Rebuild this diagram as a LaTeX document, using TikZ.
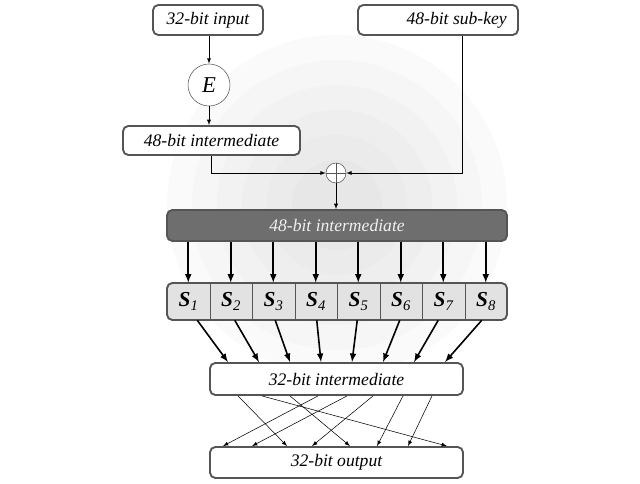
\documentclass[tikz,border=0pt]{standalone}
\usepackage{fontspec}
\setmainfont{Liberation Serif}
\usepackage{tikz}
\usetikzlibrary{positioning}
\usetikzlibrary{arrows,shapes}
\usetikzlibrary{calc}
\definecolor{framegray}{RGB}{85,85,85}
\definecolor{bargray}{RGB}{110,110,110}
\definecolor{cellgray}{RGB}{226,226,226}
\tikzstyle{block}=[rectangle,rounded corners=4pt,draw=framegray,line width=1.4pt,fill=white,inner sep=0pt,font=\fontsize{13.2}{15}\selectfont\itshape]
\tikzstyle{darkblock}=[block,fill=bargray,text=black!6]
\tikzstyle{sboxrow}=[block,fill=cellgray]
\tikzstyle{cell}=[rectangle,inner sep=0pt,minimum width=31.875pt,minimum height=27.75pt]
\tikzstyle{op}=[circle,draw=framegray,fill=white,inner sep=0pt,thin]
\tikzstyle{wire}=[draw,thin,-latex]
\tikzstyle{busline}=[draw,line width=1.2pt,-latex]
\newcommand{\sname}[1]{{\fontsize{16}{16}\selectfont\bfseries\itshape S}\raisebox{-3.5pt}{\fontsize{11}{11}\selectfont\itshape #1}}

\begin{document}
\begin{tikzpicture}[x=0.75pt,y=-0.75pt]

  \useasboundingbox (0,0) rectangle (640,484);

  % background rings
  \foreach \r/\c in {170/2,145/3.5,120/5,95/6.5,70/8,45/9.5}
          \fill[black!\c] (337,205) circle (\r);

  \node[block,minimum width=82.5pt,minimum height=22.5pt] (in32) at (208,20) {32-bit input};
  \node[block,minimum width=120pt,minimum height=22.5pt] (key48) at (438,20) {\hspace*{28pt}48-bit sub-key};
  \node[op,minimum size=31.5pt,font=\fontsize{17}{17}\selectfont\itshape] (E) at (209,85) {E};
  \node[block,minimum width=132.75pt,minimum height=21.75pt] (mid48) at (211.5,140.5) {48-bit intermediate};
  \node[op,minimum size=15pt] (xor) at (336,173) {};
  \draw[thin,framegray] (xor.north) -- (xor.south) (xor.west) -- (xor.east);

  \draw[wire] (in32.south -| E) -- (E.north);
  \draw[wire] (E.south) -- (E |- mid48.north);
  \draw[wire] (mid48.south) |- (xor.west);
  \draw[wire] ($(key48.south)+(24,0)$) |- (xor.east);

  \node[darkblock,minimum width=255pt,minimum height=23.25pt] (bar) at (337,225.5) {48-bit intermediate};
  \draw[wire] (xor.south) -- (xor |- bar.north);

  % s-boxes
  \node[sboxrow,minimum width=255pt,minimum height=27.75pt] (srow) at (337,301.5) {};
  \foreach \x/\name/\label in {188.25/s1/1, 230.75/s2/2, 273.25/s3/3, 315.75/s4/4, 358.25/s5/5, 400.75/s6/6, 443.25/s7/7, 485.75/s8/8}
          \node[cell] (\name) at (\x,301.5) {\sname{\label}};
  \foreach \i in {1,...,7}
          \draw[thin,framegray] (s\i.north east) -- (s\i.south east);
  \foreach \i in {1,...,8}
          \draw[busline] (s\i |- bar.south) -- (s\i.north);

  \node[block,minimum width=189.75pt,minimum height=24pt] (mid32) at (336.5,379) {32-bit intermediate};
  \node[block,minimum width=189.75pt,minimum height=23.25pt] (out32) at (336.5,462.5) {32-bit output};

  \foreach \i/\a/\b in {1/9/-108.5, 2/4/-77.5, 3/2/-46.5, 4/1/-15.5, 5/-1/15.5, 6/-1/46.5, 7/-5/77.5, 8/-4/108.5}
          \draw[busline] ($(s\i.south)+(\a,0)$) -- ($(mid32.north)+(\b,0)$);

  % permutation
  \foreach \a/\b in {-98.5/-49.5, -74.5/110.5, -46.5/13.5, -18.5/-113.5, 10.5/-84.5, 36.5/-24.5, 66.5/40.5, 95.5/71.5}
          \draw[wire] ($(mid32.south)+(\a,0)$) -- ($(out32.north)+(\b,0)$);

\end{tikzpicture}
\end{document}
